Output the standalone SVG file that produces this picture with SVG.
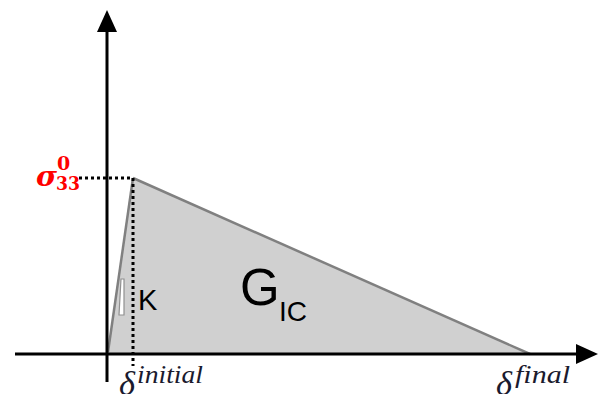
<svg xmlns="http://www.w3.org/2000/svg" width="598" height="394" viewBox="0 0 598 394">
<defs>
<style>
.ax{stroke:#000;stroke-width:3;fill:none}
.dot{stroke:#000;stroke-width:3;stroke-dasharray:3 3;fill:none}
.lbl{font-family:"Liberation Sans",Arial,sans-serif;fill:#000}
.mth{font-family:"Liberation Serif","DejaVu Serif",serif;font-style:italic;fill:#1a1a2e}
.sig{font-family:"DejaVu Serif","Liberation Serif",serif;font-weight:bold;fill:#ff0000}
</style>
</defs>
<g id="area">
<polygon points="108,354 133,178 530,354" fill="#d0d0d0" stroke="none"/>
<line x1="108" y1="352" x2="133" y2="178" stroke="#808080" stroke-width="2.5"/>
<line x1="133" y1="178" x2="530" y2="354" stroke="#808080" stroke-width="2.5"/>
<polygon points="119,315 124,315 124,279 121,279" fill="#fff" stroke="#909090" stroke-width="1.2"/>
</g>
<g id="connectors">
<line class="ax" x1="107" y1="382" x2="107" y2="30"/>
<polygon points="107,10 97,32 117,32" fill="#000"/>
<line class="ax" x1="15" y1="354" x2="580" y2="354"/>
<polygon points="598,354 576,344 576,364" fill="#000"/>
<line class="dot" x1="79" y1="178" x2="133" y2="178"/>
<line class="dot" x1="133" y1="178" x2="133" y2="366"/>
</g>
<g id="labels">
<text class="sig" x="36" y="186" font-size="27" font-style="italic" textLength="21" lengthAdjust="spacingAndGlyphs">σ</text>
<text class="sig" x="57" y="170" font-size="19">0</text>
<text class="sig" x="56" y="190" font-size="18" textLength="24" lengthAdjust="spacingAndGlyphs">33</text>
<text class="lbl" x="138" y="310" font-size="29">K</text>
<text class="lbl" x="240" y="305" font-size="51">G</text>
<text class="lbl" x="279" y="321" font-size="28">IC</text>
<text class="mth" x="119" y="395" font-size="34" textLength="16" lengthAdjust="spacingAndGlyphs">δ</text>
<text class="mth" x="137" y="383" font-size="26" textLength="66" lengthAdjust="spacingAndGlyphs">initial</text>
<text class="mth" x="496" y="395" font-size="34" textLength="16" lengthAdjust="spacingAndGlyphs">δ</text>
<text class="mth" x="515" y="383" font-size="26" textLength="55" lengthAdjust="spacingAndGlyphs">final</text>
</g>
</svg>
